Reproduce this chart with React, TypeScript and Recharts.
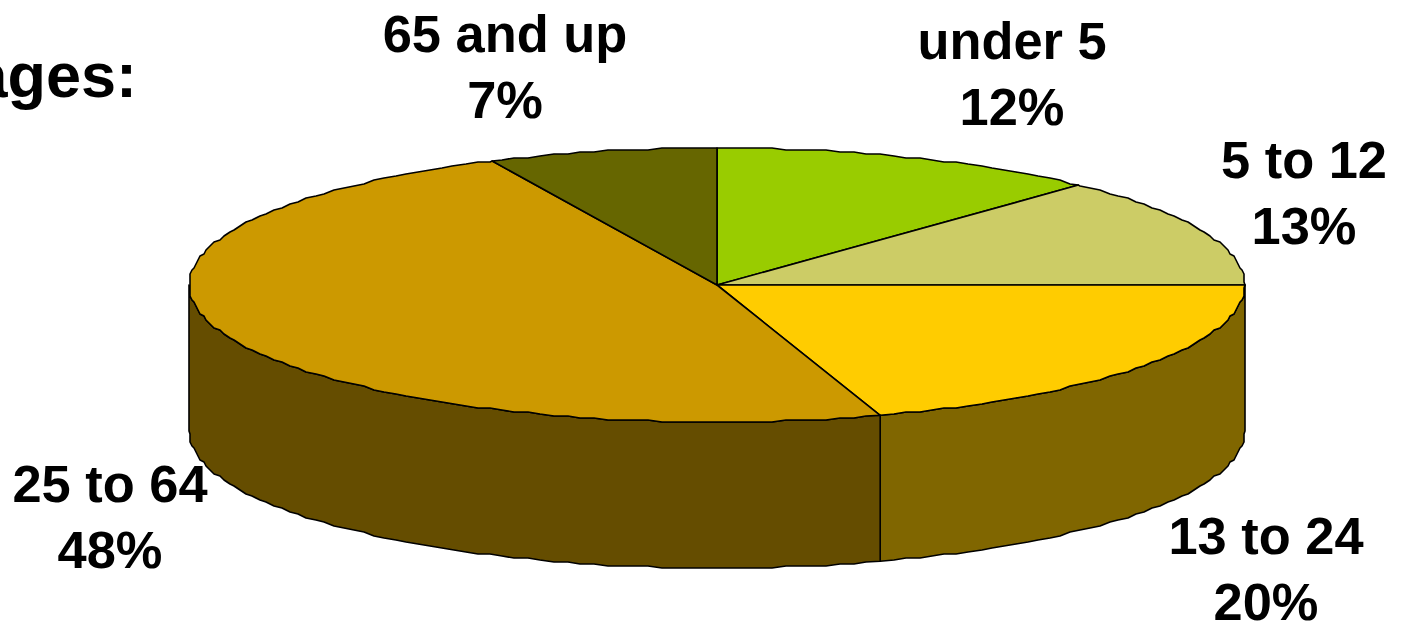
import { Pie, PieChart } from "recharts";

const ageGroups = ["under 5", "5 to 12", "13 to 24", "25 to 64", "65 and up"];
const shares = [12, 13, 20, 48, 7];
const topColors = ["#99CC00", "#CCCC66", "#FFCC00", "#CC9900", "#666600"];
const sideColors = ["#4D6600", "#666633", "#806600", "#654D00", "#333300"];

const rows = ageGroups.map((name, i) => ({
    name,
    value: shares[i],
    fill: topColors[i],
    side: sideColors[i],
}));

// label centre x, first baseline y
const labelSpots = [
    [1012, 59],
    [1304, 178],
    [1266, 554],
    [110, 502],
    [505, 52],
];

const WIDTH = 1401;
const HEIGHT = 621;
const CX = 717;
const CY = 285;
const RADIUS = 528;
const SQUASH = 137 / 528;
const DEPTH = 146;
const ARC_STEP = 1.5;
const FONT = "'Liberation Sans', Arial, sans-serif";

const RAD = Math.PI / 180;

// walks an arc on the squashed circle; inner points sit on a shared angle grid and are
// snapped to whole 2px steps so neighbouring paths keep the same slightly rough rim
const arcPoints = (cx: number, cy: number, r: number, from: number, to: number) => {
    const at = (deg: number): [number, number] => [
        cx + r * Math.cos(deg * RAD),
        cy - r * SQUASH * Math.sin(deg * RAD),
    ];
    const pts: [number, number][] = [at(from)];
    const dir = to > from ? 1 : -1;
    let k = dir > 0 ? Math.floor(from / ARC_STEP) + 1 : Math.ceil(from / ARC_STEP) - 1;
    while (dir > 0 ? k * ARC_STEP < to : k * ARC_STEP > to) {
        const [x, y] = at(k * ARC_STEP);
        pts.push([Math.round(x / 2) * 2, Math.round(y / 2) * 2]);
        k += dir;
    }
    pts.push(at(to));
    return pts;
};

const toPath = (pts: [number, number][]) =>
    pts.map((p, i) => `${i === 0 ? "M" : "L"}${p[0].toFixed(1)} ${p[1].toFixed(1)}`).join(" ");

const Slice3D = (props: any) => {
    const { cx, cy, outerRadius, startAngle, endAngle, fill, side } = props;
    const top = arcPoints(cx, cy, outerRadius, startAngle, endAngle);
    const hi = Math.min(Math.max(startAngle, endAngle), 0);
    const lo = Math.max(Math.min(startAngle, endAngle), -180);
    let wall = "";
    if (hi - lo > 0.01) {
        const rim = arcPoints(cx, cy, outerRadius, hi, lo);
        const under = rim.map((p) => [p[0], p[1] + DEPTH] as [number, number]).reverse();
        wall = toPath([...rim, ...under]) + " Z";
    }
    return (
        <g>
            {wall && <path d={wall} fill={side} stroke="#000" strokeWidth={1.6} strokeLinejoin="round" />}
            <path
                d={`M${cx} ${cy} ${toPath(top).replace("M", "L")} Z`}
                fill={fill}
                stroke="#000"
                strokeWidth={1.6}
                strokeLinejoin="round"
            />
        </g>
    );
};

const SliceLabel = ({ index, name, value }: any) => {
    const [x, y] = labelSpots[index];
    return (
        <text x={x} y={y} textAnchor="middle" fontFamily={FONT} fontWeight="bold" fontSize={52.4} fill="#000">
            <tspan x={x}>{name}</tspan>
            <tspan x={x} dy={66}>{`${value}%`}</tspan>
        </text>
    );
};

export default function App() {
    return (
        <div style={{ position: "absolute", left: 0, top: 0, width: WIDTH, height: HEIGHT, background: "#fff", overflow: "hidden" }}>
            <PieChart width={WIDTH} height={HEIGHT} margin={{ top: 0, right: 0, bottom: 0, left: 0 }}>
                <Pie
                    data={rows}
                    dataKey="value"
                    nameKey="name"
                    cx={CX}
                    cy={CY}
                    outerRadius={RADIUS}
                    startAngle={90}
                    endAngle={-270}
                    shape={Slice3D}
                    label={SliceLabel}
                    labelLine={false}
                    isAnimationActive={false}
                />
                <text x={137} y={97} textAnchor="end" fontFamily={FONT} fontWeight="bold" fontSize={63} fill="#000">
                    ages:
                </text>
            </PieChart>
        </div>
    );
}
